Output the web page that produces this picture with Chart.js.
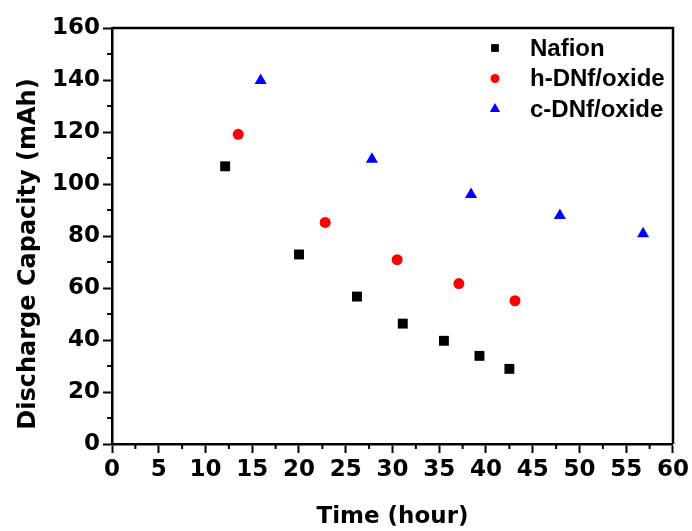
<!DOCTYPE html>
<html>
<head>
<meta charset="utf-8">
<script src="https://cdn.jsdelivr.net/npm/chart.js@4/dist/chart.umd.min.js"></script>
<style>
  html, body { margin: 0; padding: 0; background: #fff; }
  #wrap { width: 692px; height: 531px; }
</style>
</head>
<body>
<div id="wrap"><canvas id="chart" width="692" height="531"></canvas></div>
<script>
// values
const nafionTime = [12.1, 20.0, 26.2, 31.1, 35.5, 39.3, 42.5];
const nafionCap = [106.8, 72.9, 56.7, 46.3, 39.7, 33.9, 28.9];

const hDnfTime = [13.5, 22.8, 30.5, 37.1, 43.1];
const hDnfCap = [119.1, 85.2, 70.9, 61.7, 55.1];

const cDnfTime = [15.9, 27.8, 38.4, 47.9, 56.8];
const cDnfCap = [139.8, 109.5, 96.0, 87.9, 80.9];

const seriesNames = ['Nafion', 'h-DNf/oxide', 'c-DNf/oxide'];

const xTicks = [0, 5, 10, 15, 20, 25, 30, 35, 40, 45, 50, 55, 60];
const yTicks = [0, 20, 40, 60, 80, 100, 120, 140, 160];

const yTitle = 'Discharge Capacity (mAh)';

function toPoints(xs, ys) {
    return xs.map((x, i) => ({ x: x, y: ys[i] }));
}

const tickFont = { family: 'DejaVu Sans', size: 23, weight: 'bold' };

// top/right frame, minor ticks and the y title
const framePlugin = {
    id: 'frame',
    afterDraw(chart) {
        const ctx = chart.ctx;
        const a = chart.chartArea;
        const xs = chart.scales.x;
        const ys = chart.scales.y;
        ctx.save();
        ctx.strokeStyle = '#000';
        ctx.lineWidth = 2.5;
        ctx.beginPath();
        ctx.moveTo(a.left, a.top);
        ctx.lineTo(a.right, a.top);
        ctx.lineTo(a.right, a.bottom);
        ctx.stroke();

        ctx.lineWidth = 2;
        ctx.beginPath();
        for (let i = 0; i < xTicks.length - 1; i++) {
            const px = xs.getPixelForValue((xTicks[i] + xTicks[i + 1]) / 2);
            ctx.moveTo(px, a.bottom);
            ctx.lineTo(px, a.bottom + 5);
        }
        for (let i = 0; i < yTicks.length - 1; i++) {
            const py = ys.getPixelForValue((yTicks[i] + yTicks[i + 1]) / 2);
            ctx.moveTo(a.left, py);
            ctx.lineTo(a.left - 5, py);
        }
        ctx.stroke();

        // y title sits a bit lower than the plot centre in the original
        ctx.translate(35, 254);
        ctx.rotate(-Math.PI / 2);
        ctx.font = 'bold 24px "DejaVu Sans", sans-serif';
        ctx.fillStyle = '#000';
        ctx.textAlign = 'center';
        ctx.textBaseline = 'alphabetic';
        ctx.fillText(yTitle, 0, 0);
        ctx.restore();
    }
};

// legend drawn inside the plot, top right
const legendPlugin = {
    id: 'innerLegend',
    afterDraw(chart) {
        const ctx = chart.ctx;
        const a = chart.chartArea;
        const sizes = [5.5, 4.5, 6];
        ctx.save();
        ctx.font = 'bold 24px "Liberation Sans", Arial, sans-serif';
        ctx.textBaseline = 'middle';
        ctx.textAlign = 'left';
        chart.data.datasets.forEach((ds, i) => {
            const y = a.top + 20 + i * 30.5;
            ctx.fillStyle = ds.backgroundColor;
            ctx.strokeStyle = ds.backgroundColor;
            Chart.helpers.drawPoint(ctx, { pointStyle: ds.pointStyle, radius: sizes[i], rotation: 0, borderWidth: 0 }, a.right - 178, y);
            ctx.fillStyle = '#000';
            ctx.fillText(ds.label, a.right - 143, y + 1);
        });
        ctx.restore();
    }
};

new Chart(document.getElementById('chart'), {
    type: 'scatter',
    data: {
        datasets: [
            {
                label: seriesNames[0],
                data: toPoints(nafionTime, nafionCap),
                pointStyle: 'rect',
                pointRadius: 7,
                backgroundColor: '#000000',
                borderColor: '#000000',
                borderWidth: 0
            },
            {
                label: seriesNames[1],
                data: toPoints(hDnfTime, hDnfCap),
                pointStyle: 'circle',
                pointRadius: 5.5,
                backgroundColor: '#ff0000',
                borderColor: '#ff0000',
                borderWidth: 0
            },
            {
                label: seriesNames[2],
                data: toPoints(cDnfTime, cDnfCap),
                pointStyle: 'triangle',
                pointRadius: 7,
                backgroundColor: '#0000ff',
                borderColor: '#0000ff',
                borderWidth: 0
            }
        ]
    },
    options: {
        responsive: false,
        animation: false,
        layout: { padding: { top: 28, right: 19, left: 0, bottom: 0 } },
        plugins: {
            legend: { display: false },
            tooltip: { enabled: false }
        },
        scales: {
            x: {
                type: 'linear',
                min: 0,
                max: 60,
                afterFit(scale) { scale.height = 87; },
                afterBuildTicks(scale) { scale.ticks = xTicks.map(v => ({ value: v })); },
                ticks: { color: '#000', font: tickFont, padding: 3, maxRotation: 0 },
                grid: { drawOnChartArea: false, drawTicks: true, tickLength: 9, tickWidth: 2, tickColor: '#000' },
                border: { display: true, color: '#000', width: 2.5 },
                title: {
                    display: true,
                    text: 'Time (hour)',
                    color: '#000',
                    font: tickFont,
                    padding: { top: 4, bottom: 0 }
                }
            },
            y: {
                type: 'linear',
                min: 0,
                max: 160,
                afterFit(scale) { scale.width = 112; },
                afterBuildTicks(scale) { scale.ticks = yTicks.map(v => ({ value: v })); },
                ticks: { color: '#000', font: tickFont, padding: 3 },
                grid: { drawOnChartArea: false, drawTicks: true, tickLength: 9, tickWidth: 2, tickColor: '#000' },
                border: { display: true, color: '#000', width: 2.5 }
            }
        }
    },
    plugins: [framePlugin, legendPlugin]
});
</script>
</body>
</html>
